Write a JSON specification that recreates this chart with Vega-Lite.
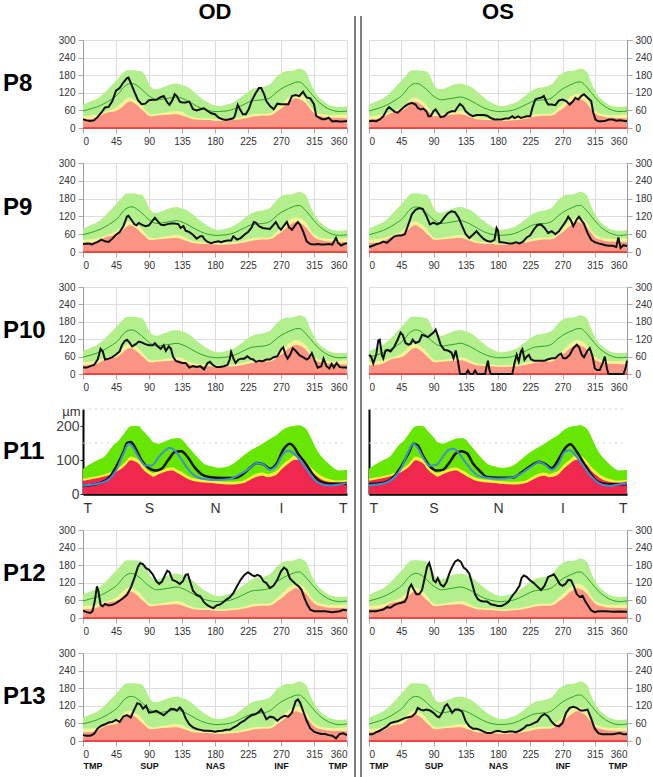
{
"$schema":"https://vega.github.io/schema/vega-lite/v6.json",
"padding":{"left":3,"top":0,"right":0,"bottom":0},
"config":{"font":"Liberation Sans","view":{"stroke":null},
"axis":{"gridColor":"#dddddd","domainColor":"#999999","tickColor":"#aaaaaa","tickSize":5,"labelFontSize":10,"labelColor":"#333333","labelPadding":3,"labelFont":"Liberation Sans"}},
"datasets":{
"norm":[{"a":0,"r":30,"yl":41,"g":79,"m":58},{"a":10,"r":31,"yl":43,"g":90,"m":65},{"a":20,"r":36,"yl":47,"g":101,"m":73},{"a":30,"r":50,"yl":55,"g":122,"m":85},{"a":40,"r":55,"yl":64,"g":148,"m":100},{"a":45,"r":58,"yl":70,"g":161,"m":109},{"a":50,"r":65,"yl":80,"g":175,"m":122},{"a":55,"r":75,"yl":92,"g":189,"m":138},{"a":60,"r":86,"yl":102,"g":197,"m":148},{"a":65,"r":90,"yl":104,"g":197,"m":152},{"a":70,"r":84,"yl":98,"g":197,"m":150},{"a":75,"r":75,"yl":90,"g":195,"m":142},{"a":80,"r":62,"yl":78,"g":193,"m":132},{"a":85,"r":52,"yl":62,"g":178,"m":120},{"a":90,"r":41,"yl":50,"g":150,"m":109},{"a":95,"r":40,"yl":47,"g":135,"m":101},{"a":100,"r":42,"yl":48,"g":132,"m":96},{"a":110,"r":44,"yl":51,"g":140,"m":99},{"a":120,"r":46,"yl":56,"g":149,"m":103},{"a":128,"r":47,"yl":58,"g":152,"m":106},{"a":135,"r":43,"yl":55,"g":147,"m":101},{"a":140,"r":38,"yl":48,"g":143,"m":96},{"a":145,"r":34,"yl":42,"g":136,"m":89},{"a":150,"r":30,"yl":37,"g":126,"m":82},{"a":155,"r":29,"yl":35,"g":115,"m":75},{"a":160,"r":28,"yl":34,"g":105,"m":69},{"a":165,"r":27,"yl":33,"g":95,"m":64},{"a":170,"r":27,"yl":33,"g":88,"m":60},{"a":175,"r":26,"yl":32,"g":81,"m":58},{"a":180,"r":25,"yl":31,"g":77,"m":56},{"a":185,"r":24,"yl":30,"g":75,"m":56},{"a":190,"r":24,"yl":30,"g":76,"m":57},{"a":195,"r":25,"yl":31,"g":79,"m":58},{"a":200,"r":26,"yl":32,"g":83,"m":60},{"a":205,"r":27,"yl":33,"g":87,"m":64},{"a":210,"r":28,"yl":34,"g":95,"m":69},{"a":215,"r":30,"yl":37,"g":104,"m":75},{"a":220,"r":32,"yl":40,"g":114,"m":81},{"a":225,"r":35,"yl":43,"g":124,"m":87},{"a":230,"r":38,"yl":46,"g":131,"m":92},{"a":235,"r":40,"yl":48,"g":136,"m":94},{"a":240,"r":41,"yl":49,"g":138,"m":95},{"a":245,"r":42,"yl":49,"g":140,"m":96},{"a":250,"r":42,"yl":49,"g":144,"m":98},{"a":255,"r":43,"yl":50,"g":149,"m":103},{"a":260,"r":48,"yl":58,"g":163,"m":113},{"a":265,"r":58,"yl":70,"g":178,"m":124},{"a":270,"r":66,"yl":80,"g":187,"m":133},{"a":275,"r":76,"yl":92,"g":193,"m":140},{"a":280,"r":87,"yl":104,"g":194,"m":146},{"a":285,"r":95,"yl":112,"g":195,"m":151},{"a":290,"r":101,"yl":117,"g":199,"m":156},{"a":295,"r":98,"yl":115,"g":203,"m":157},{"a":300,"r":92,"yl":109,"g":199,"m":149},{"a":305,"r":80,"yl":95,"g":188,"m":136},{"a":310,"r":64,"yl":75,"g":155,"m":121},{"a":315,"r":50,"yl":60,"g":130,"m":106},{"a":320,"r":43,"yl":52,"g":109,"m":92},{"a":325,"r":40,"yl":48,"g":97,"m":81},{"a":330,"r":37,"yl":46,"g":87,"m":72},{"a":340,"r":35,"yl":44,"g":75,"m":60},{"a":350,"r":34,"yl":45,"g":72,"m":56},{"a":360,"r":33,"yl":47,"g":74,"m":58}],
"n11":[{"a":0,"r":39,"yl":45,"g":74},{"a":10,"r":43,"yl":49,"g":88},{"a":20,"r":47,"yl":53,"g":100},{"a":30,"r":52,"yl":58,"g":112},{"a":40,"r":59,"yl":66,"g":140},{"a":49,"r":70,"yl":78,"g":158},{"a":55,"r":79,"yl":88,"g":175},{"a":60,"r":90,"yl":100,"g":190},{"a":65,"r":99,"yl":110,"g":199},{"a":70,"r":96,"yl":107,"g":200},{"a":76,"r":89,"yl":100,"g":199},{"a":82,"r":72,"yl":84,"g":185},{"a":90,"r":58,"yl":68,"g":167},{"a":96,"r":51,"yl":62,"g":152},{"a":103,"r":58,"yl":68,"g":148},{"a":110,"r":64,"yl":72,"g":153},{"a":116,"r":68,"yl":77,"g":158},{"a":122,"r":69,"yl":78,"g":163},{"a":130,"r":60,"yl":70,"g":165},{"a":135,"r":54,"yl":65,"g":160},{"a":140,"r":48,"yl":57,"g":148},{"a":148,"r":40,"yl":48,"g":128},{"a":156,"r":36,"yl":44,"g":108},{"a":165,"r":34,"yl":42,"g":89},{"a":174,"r":32,"yl":40,"g":82},{"a":183,"r":30,"yl":38,"g":77},{"a":192,"r":29,"yl":37,"g":78},{"a":201,"r":28,"yl":36,"g":84},{"a":210,"r":29,"yl":37,"g":97},{"a":219,"r":32,"yl":40,"g":113},{"a":228,"r":42,"yl":51,"g":127},{"a":237,"r":51,"yl":60,"g":138},{"a":245,"r":54,"yl":63,"g":148},{"a":252,"r":49,"yl":59,"g":158},{"a":259,"r":52,"yl":63,"g":167},{"a":265,"r":59,"yl":70,"g":175},{"a":272,"r":75,"yl":87,"g":188},{"a":280,"r":89,"yl":100,"g":197},{"a":288,"r":100,"yl":113,"g":200},{"a":295,"r":101,"yl":114,"g":202},{"a":300,"r":93,"yl":105,"g":198},{"a":304,"r":85,"yl":97,"g":192},{"a":311,"r":66,"yl":78,"g":165},{"a":318,"r":54,"yl":65,"g":133},{"a":326,"r":42,"yl":52,"g":108},{"a":335,"r":36,"yl":45,"g":89},{"a":345,"r":34,"yl":40,"g":72},{"a":349,"r":34,"yl":40,"g":69},{"a":360,"r":37,"yl":42,"g":71}]
},
"columns":4,
"align":"each",
"bounds":"flush",
"spacing":{"row":0,"column":8},
"concat":[
{"width":72,"height":39,"data":{"values":[{"t":""}]},"mark":{"type":"text"},"encoding":{"text":{"field":"t"}}},
{"width":264,"height":39,"data":{"values":[{"t":"OD"}]},"mark":{"type":"text","fontSize":22,"fontWeight":"bold","dy":-9,"color":"#000000","baseline":"middle"},"encoding":{"text":{"field":"t"}}},
{"width":6,"height":39,"data":{"values":[{"s":0,"p":15,"q":39},{"s":6,"p":15,"q":39}]},"mark":{"type":"rule","color":"#555555","strokeWidth":1.5},"encoding":{"x":{"field":"s","type":"quantitative","scale":{"domain":[0,6],"nice":false,"zero":false},"axis":null},"y":{"field":"p","type":"quantitative","scale":{"domain":[0,39],"nice":false,"reverse":true},"axis":null},"y2":{"field":"q"}}},
{"width":258,"height":39,"data":{"values":[{"t":"OS"}]},"mark":{"type":"text","fontSize":22,"fontWeight":"bold","dy":-9,"color":"#000000","baseline":"middle"},"encoding":{"text":{"field":"t"}}},

{"width":72,"height":88,"data":{"values":[{"t":"P8","p":0}]},"mark":{"type":"text","align":"left","baseline":"middle","fontSize":24,"fontWeight":"bold","color":"#000000"},"encoding":{"text":{"field":"t"},"x":{"field":"p","type":"quantitative","scale":{"domain":[0,1]},"axis":null}}},
{"width":264,"height":88,
"resolve":{"axis":{"x":"independent","y":"independent"}},
"encoding":{"x":{"field":"a","type":"quantitative","scale":{"domain":[0,360],"nice":false,"zero":false},"axis":null}},
"layer":[
{"data":{"name":"norm"},"mark":{"type":"area","color":"#b4ef8e","interpolate":"monotone","opacity":1},"encoding":{"x":{"field":"a","type":"quantitative","scale":{"domain":[0,360],"nice":false,"zero":false},"axis":{"orient":"bottom","values":[0,45,90,135,180,225,270,315,360],"labelFlush":true,"title":null}},"y":{"field":"g","type":"quantitative","scale":{"domain":[0,300],"nice":false},"axis":{"values":[0,60,120,180,240,300],"title":null,"orient":"left"}}}},
{"data":{"name":"norm"},"mark":{"type":"area","color":"#f6f29a","interpolate":"monotone","opacity":1},"encoding":{"y":{"field":"yl","type":"quantitative","axis":null}}},
{"data":{"name":"norm"},"mark":{"type":"area","color":"#fa9484","interpolate":"monotone","opacity":1},"encoding":{"y":{"field":"r","type":"quantitative","axis":null}}},
{"data":{"name":"norm"},"mark":{"type":"line","color":"#2ea32e","strokeWidth":1,"interpolate":"monotone"},"encoding":{"y":{"field":"m","type":"quantitative","axis":null}}},
{"data":{"values":[{"a":0,"b":360,"z":0}]},"mark":{"type":"rule","color":"#ff2a2a","strokeWidth":1.5},"encoding":{"x2":{"field":"b"},"y":{"field":"z","type":"quantitative","axis":null}}},
{"data":{"values":[{"a":0,"v":30},{"a":5,"v":26},{"a":10,"v":24},{"a":15,"v":26},{"a":20,"v":38},{"a":25,"v":52},{"a":30,"v":70},{"a":35,"v":72},{"a":40,"v":92},{"a":45,"v":127},{"a":50,"v":136},{"a":55,"v":155},{"a":60,"v":170},{"a":62,"v":172},{"a":65,"v":155},{"a":70,"v":124},{"a":75,"v":95},{"a":80,"v":81},{"a":85,"v":83},{"a":90,"v":95},{"a":95,"v":96},{"a":100,"v":96},{"a":105,"v":104},{"a":110,"v":109},{"a":115,"v":87},{"a":118,"v":79},{"a":122,"v":95},{"a":125,"v":115},{"a":128,"v":109},{"a":132,"v":90},{"a":135,"v":87},{"a":140,"v":87},{"a":145,"v":90},{"a":150,"v":64},{"a":155,"v":60},{"a":160,"v":64},{"a":165,"v":67},{"a":170,"v":58},{"a":175,"v":50},{"a":180,"v":47},{"a":185,"v":35},{"a":190,"v":30},{"a":195,"v":27},{"a":200,"v":30},{"a":205,"v":33},{"a":207,"v":41},{"a":211,"v":79},{"a":214,"v":64},{"a":218,"v":47},{"a":222,"v":47},{"a":226,"v":64},{"a":230,"v":92},{"a":235,"v":117},{"a":240,"v":136},{"a":243,"v":136},{"a":247,"v":115},{"a":250,"v":92},{"a":255,"v":75},{"a":260,"v":64},{"a":265,"v":83},{"a":270,"v":81},{"a":275,"v":81},{"a":280,"v":81},{"a":285,"v":109},{"a":290,"v":112},{"a":295,"v":109},{"a":300,"v":124},{"a":305,"v":104},{"a":310,"v":101},{"a":315,"v":81},{"a":318,"v":41},{"a":322,"v":35},{"a":326,"v":30},{"a":330,"v":30},{"a":335,"v":35},{"a":340,"v":22},{"a":345,"v":24},{"a":350,"v":22},{"a":355,"v":22},{"a":360,"v":24}]},"mark":{"type":"line","color":"#111111","strokeWidth":2},"encoding":{"y":{"field":"v","type":"quantitative","axis":null}}}
]},
{"width":6,"height":123,"data":{"values":[{"s":0},{"s":6}]},"mark":{"type":"rule","color":"#555555","strokeWidth":1.5},"encoding":{"x":{"field":"s","type":"quantitative","scale":{"domain":[0,6],"nice":false,"zero":false},"axis":null}}},
{"width":258,"height":88,
"resolve":{"axis":{"x":"independent","y":"independent"}},
"encoding":{"x":{"field":"a","type":"quantitative","scale":{"domain":[0,360],"nice":false,"zero":false},"axis":null}},
"layer":[
{"data":{"name":"norm"},"mark":{"type":"area","color":"#b4ef8e","interpolate":"monotone","opacity":1},"encoding":{"x":{"field":"a","type":"quantitative","scale":{"domain":[0,360],"nice":false,"zero":false},"axis":{"orient":"bottom","values":[0,45,90,135,180,225,270,315,360],"labelFlush":true,"title":null}},"y":{"field":"g","type":"quantitative","scale":{"domain":[0,300],"nice":false},"axis":{"values":[0,60,120,180,240,300],"title":null,"orient":"right"}}}},
{"data":{"name":"norm"},"mark":{"type":"area","color":"#f6f29a","interpolate":"monotone","opacity":1},"encoding":{"y":{"field":"yl","type":"quantitative","axis":null}}},
{"data":{"name":"norm"},"mark":{"type":"area","color":"#fa9484","interpolate":"monotone","opacity":1},"encoding":{"y":{"field":"r","type":"quantitative","axis":null}}},
{"data":{"name":"norm"},"mark":{"type":"line","color":"#2ea32e","strokeWidth":1,"interpolate":"monotone"},"encoding":{"y":{"field":"m","type":"quantitative","axis":null}}},
{"data":{"values":[{"a":0,"b":360,"z":0}]},"mark":{"type":"rule","color":"#ff2a2a","strokeWidth":1.5},"encoding":{"x2":{"field":"b"},"y":{"field":"z","type":"quantitative","axis":null}}},
{"data":{"values":[{"a":0,"v":23},{"a":5,"v":25},{"a":10,"v":23},{"a":15,"v":29},{"a":20,"v":40},{"a":25,"v":63},{"a":28,"v":71},{"a":32,"v":63},{"a":36,"v":55},{"a":40,"v":52},{"a":45,"v":63},{"a":50,"v":74},{"a":55,"v":82},{"a":60,"v":86},{"a":65,"v":80},{"a":68,"v":69},{"a":72,"v":63},{"a":76,"v":66},{"a":80,"v":57},{"a":83,"v":40},{"a":86,"v":40},{"a":90,"v":57},{"a":93,"v":63},{"a":96,"v":52},{"a":100,"v":37},{"a":105,"v":40},{"a":110,"v":52},{"a":115,"v":57},{"a":120,"v":57},{"a":123,"v":69},{"a":127,"v":82},{"a":131,"v":74},{"a":135,"v":57},{"a":140,"v":46},{"a":145,"v":40},{"a":150,"v":44},{"a":155,"v":44},{"a":160,"v":44},{"a":165,"v":42},{"a":170,"v":34},{"a":175,"v":29},{"a":180,"v":29},{"a":185,"v":29},{"a":190,"v":32},{"a":195,"v":32},{"a":200,"v":40},{"a":203,"v":34},{"a":208,"v":40},{"a":212,"v":34},{"a":216,"v":37},{"a":220,"v":40},{"a":225,"v":40},{"a":228,"v":69},{"a":232,"v":97},{"a":236,"v":101},{"a":240,"v":103},{"a":244,"v":109},{"a":247,"v":92},{"a":250,"v":80},{"a":255,"v":80},{"a":260,"v":78},{"a":265,"v":94},{"a":270,"v":97},{"a":275,"v":92},{"a":280,"v":80},{"a":285,"v":92},{"a":288,"v":103},{"a":292,"v":97},{"a":296,"v":109},{"a":300,"v":115},{"a":305,"v":103},{"a":310,"v":92},{"a":313,"v":52},{"a":316,"v":29},{"a":320,"v":23},{"a":325,"v":23},{"a":330,"v":25},{"a":335,"v":29},{"a":340,"v":29},{"a":345,"v":25},{"a":350,"v":26},{"a":355,"v":25},{"a":360,"v":23}]},"mark":{"type":"line","color":"#111111","strokeWidth":2},"encoding":{"y":{"field":"v","type":"quantitative","axis":null}}}
]},

{"width":72,"height":89,"data":{"values":[{"t":"P9","p":0}]},"mark":{"type":"text","align":"left","baseline":"middle","fontSize":24,"fontWeight":"bold","color":"#000000"},"encoding":{"text":{"field":"t"},"x":{"field":"p","type":"quantitative","scale":{"domain":[0,1]},"axis":null}}},
{"width":264,"height":89,
"resolve":{"axis":{"x":"independent","y":"independent"}},
"encoding":{"x":{"field":"a","type":"quantitative","scale":{"domain":[0,360],"nice":false,"zero":false},"axis":null}},
"layer":[
{"data":{"name":"norm"},"mark":{"type":"area","color":"#b4ef8e","interpolate":"monotone","opacity":1},"encoding":{"x":{"field":"a","type":"quantitative","scale":{"domain":[0,360],"nice":false,"zero":false},"axis":{"orient":"bottom","values":[0,45,90,135,180,225,270,315,360],"labelFlush":true,"title":null}},"y":{"field":"g","type":"quantitative","scale":{"domain":[0,300],"nice":false},"axis":{"values":[0,60,120,180,240,300],"title":null,"orient":"left"}}}},
{"data":{"name":"norm"},"mark":{"type":"area","color":"#f6f29a","interpolate":"monotone","opacity":1},"encoding":{"y":{"field":"yl","type":"quantitative","axis":null}}},
{"data":{"name":"norm"},"mark":{"type":"area","color":"#fa9484","interpolate":"monotone","opacity":1},"encoding":{"y":{"field":"r","type":"quantitative","axis":null}}},
{"data":{"name":"norm"},"mark":{"type":"line","color":"#2ea32e","strokeWidth":1,"interpolate":"monotone"},"encoding":{"y":{"field":"m","type":"quantitative","axis":null}}},
{"data":{"values":[{"a":0,"b":360,"z":0}]},"mark":{"type":"rule","color":"#ff2a2a","strokeWidth":1.5},"encoding":{"x2":{"field":"b"},"y":{"field":"z","type":"quantitative","axis":null}}},
{"data":{"values":[{"a":0,"v":27},{"a":5,"v":29},{"a":10,"v":28},{"a":12,"v":25},{"a":15,"v":29},{"a":20,"v":34},{"a":25,"v":42},{"a":30,"v":36},{"a":35,"v":34},{"a":40,"v":45},{"a":45,"v":58},{"a":50,"v":67},{"a":55,"v":87},{"a":60,"v":120},{"a":62,"v":122},{"a":65,"v":112},{"a":70,"v":94},{"a":73,"v":90},{"a":76,"v":98},{"a":80,"v":92},{"a":85,"v":87},{"a":90,"v":90},{"a":94,"v":103},{"a":98,"v":115},{"a":102,"v":103},{"a":106,"v":92},{"a":110,"v":90},{"a":115,"v":94},{"a":120,"v":96},{"a":125,"v":96},{"a":130,"v":94},{"a":133,"v":81},{"a":137,"v":87},{"a":140,"v":72},{"a":145,"v":67},{"a":150,"v":58},{"a":155,"v":45},{"a":160,"v":53},{"a":163,"v":53},{"a":166,"v":42},{"a":170,"v":34},{"a":175,"v":30},{"a":180,"v":34},{"a":185,"v":36},{"a":188,"v":33},{"a":192,"v":36},{"a":197,"v":39},{"a":202,"v":39},{"a":205,"v":53},{"a":210,"v":42},{"a":215,"v":47},{"a":220,"v":58},{"a":225,"v":67},{"a":230,"v":83},{"a":233,"v":101},{"a":236,"v":98},{"a":240,"v":87},{"a":245,"v":81},{"a":250,"v":79},{"a":255,"v":78},{"a":260,"v":92},{"a":263,"v":101},{"a":267,"v":83},{"a":270,"v":75},{"a":275,"v":92},{"a":278,"v":101},{"a":281,"v":83},{"a":285,"v":75},{"a":290,"v":92},{"a":293,"v":101},{"a":296,"v":92},{"a":300,"v":70},{"a":305,"v":36},{"a":310,"v":27},{"a":315,"v":25},{"a":320,"v":27},{"a":325,"v":25},{"a":330,"v":25},{"a":335,"v":27},{"a":340,"v":25},{"a":345,"v":47},{"a":348,"v":30},{"a":352,"v":22},{"a":356,"v":27},{"a":360,"v":30}]},"mark":{"type":"line","color":"#111111","strokeWidth":2},"encoding":{"y":{"field":"v","type":"quantitative","axis":null}}}
]},
{"width":6,"height":124,"data":{"values":[{"s":0},{"s":6}]},"mark":{"type":"rule","color":"#555555","strokeWidth":1.5},"encoding":{"x":{"field":"s","type":"quantitative","scale":{"domain":[0,6],"nice":false,"zero":false},"axis":null}}},
{"width":258,"height":89,
"resolve":{"axis":{"x":"independent","y":"independent"}},
"encoding":{"x":{"field":"a","type":"quantitative","scale":{"domain":[0,360],"nice":false,"zero":false},"axis":null}},
"layer":[
{"data":{"name":"norm"},"mark":{"type":"area","color":"#b4ef8e","interpolate":"monotone","opacity":1},"encoding":{"x":{"field":"a","type":"quantitative","scale":{"domain":[0,360],"nice":false,"zero":false},"axis":{"orient":"bottom","values":[0,45,90,135,180,225,270,315,360],"labelFlush":true,"title":null}},"y":{"field":"g","type":"quantitative","scale":{"domain":[0,300],"nice":false},"axis":{"values":[0,60,120,180,240,300],"title":null,"orient":"right"}}}},
{"data":{"name":"norm"},"mark":{"type":"area","color":"#f6f29a","interpolate":"monotone","opacity":1},"encoding":{"y":{"field":"yl","type":"quantitative","axis":null}}},
{"data":{"name":"norm"},"mark":{"type":"area","color":"#fa9484","interpolate":"monotone","opacity":1},"encoding":{"y":{"field":"r","type":"quantitative","axis":null}}},
{"data":{"name":"norm"},"mark":{"type":"line","color":"#2ea32e","strokeWidth":1,"interpolate":"monotone"},"encoding":{"y":{"field":"m","type":"quantitative","axis":null}}},
{"data":{"values":[{"a":0,"b":360,"z":0}]},"mark":{"type":"rule","color":"#ff2a2a","strokeWidth":1.5},"encoding":{"x2":{"field":"b"},"y":{"field":"z","type":"quantitative","axis":null}}},
{"data":{"values":[{"a":0,"v":17},{"a":5,"v":21},{"a":10,"v":26},{"a":15,"v":29},{"a":20,"v":35},{"a":25,"v":31},{"a":30,"v":41},{"a":35,"v":52},{"a":40,"v":56},{"a":45,"v":56},{"a":50,"v":60},{"a":55,"v":93},{"a":60,"v":128},{"a":65,"v":142},{"a":70,"v":148},{"a":75,"v":145},{"a":80,"v":122},{"a":85,"v":93},{"a":90,"v":99},{"a":95,"v":93},{"a":100,"v":99},{"a":105,"v":116},{"a":110,"v":130},{"a":115,"v":137},{"a":120,"v":134},{"a":125,"v":116},{"a":130,"v":87},{"a":135,"v":60},{"a":140,"v":47},{"a":145,"v":58},{"a":150,"v":70},{"a":155,"v":56},{"a":160,"v":44},{"a":165,"v":37},{"a":170,"v":35},{"a":175,"v":41},{"a":178,"v":81},{"a":180,"v":72},{"a":182,"v":33},{"a":185,"v":33},{"a":190,"v":31},{"a":195,"v":29},{"a":200,"v":29},{"a":205,"v":33},{"a":210,"v":29},{"a":215,"v":35},{"a":220,"v":49},{"a":225,"v":56},{"a":230,"v":76},{"a":235,"v":91},{"a":240,"v":93},{"a":245,"v":81},{"a":250,"v":64},{"a":255,"v":70},{"a":260,"v":60},{"a":265,"v":70},{"a":270,"v":87},{"a":275,"v":105},{"a":278,"v":119},{"a":282,"v":105},{"a":285,"v":87},{"a":290,"v":110},{"a":293,"v":119},{"a":297,"v":105},{"a":300,"v":95},{"a":305,"v":64},{"a":310,"v":41},{"a":315,"v":33},{"a":320,"v":29},{"a":325,"v":26},{"a":330,"v":23},{"a":335,"v":21},{"a":340,"v":21},{"a":345,"v":17},{"a":348,"v":49},{"a":351,"v":14},{"a":355,"v":23},{"a":360,"v":20}]},"mark":{"type":"line","color":"#111111","strokeWidth":2},"encoding":{"y":{"field":"v","type":"quantitative","axis":null}}}
]},

{"width":72,"height":87,"data":{"values":[{"t":"P10","p":0}]},"mark":{"type":"text","align":"left","baseline":"middle","fontSize":24,"fontWeight":"bold","color":"#000000"},"encoding":{"text":{"field":"t"},"x":{"field":"p","type":"quantitative","scale":{"domain":[0,1]},"axis":null}}},
{"width":264,"height":87,
"resolve":{"axis":{"x":"independent","y":"independent"}},
"encoding":{"x":{"field":"a","type":"quantitative","scale":{"domain":[0,360],"nice":false,"zero":false},"axis":null}},
"layer":[
{"data":{"name":"norm"},"mark":{"type":"area","color":"#b4ef8e","interpolate":"monotone","opacity":1},"encoding":{"x":{"field":"a","type":"quantitative","scale":{"domain":[0,360],"nice":false,"zero":false},"axis":{"orient":"bottom","values":[0,45,90,135,180,225,270,315,360],"labelFlush":true,"title":null}},"y":{"field":"g","type":"quantitative","scale":{"domain":[0,300],"nice":false},"axis":{"values":[0,60,120,180,240,300],"title":null,"orient":"left"}}}},
{"data":{"name":"norm"},"mark":{"type":"area","color":"#f6f29a","interpolate":"monotone","opacity":1},"encoding":{"y":{"field":"yl","type":"quantitative","axis":null}}},
{"data":{"name":"norm"},"mark":{"type":"area","color":"#fa9484","interpolate":"monotone","opacity":1},"encoding":{"y":{"field":"r","type":"quantitative","axis":null}}},
{"data":{"name":"norm"},"mark":{"type":"line","color":"#2ea32e","strokeWidth":1,"interpolate":"monotone"},"encoding":{"y":{"field":"m","type":"quantitative","axis":null}}},
{"data":{"values":[{"a":0,"b":360,"z":0}]},"mark":{"type":"rule","color":"#ff2a2a","strokeWidth":1.5},"encoding":{"x2":{"field":"b"},"y":{"field":"z","type":"quantitative","axis":null}}},
{"data":{"values":[{"a":0,"v":22},{"a":5,"v":22},{"a":10,"v":27},{"a":15,"v":31},{"a":20,"v":50},{"a":24,"v":87},{"a":27,"v":78},{"a":30,"v":50},{"a":35,"v":53},{"a":40,"v":58},{"a":45,"v":67},{"a":50,"v":78},{"a":53,"v":99},{"a":57,"v":114},{"a":60,"v":118},{"a":63,"v":110},{"a":67,"v":95},{"a":72,"v":103},{"a":76,"v":112},{"a":80,"v":109},{"a":85,"v":103},{"a":90,"v":99},{"a":95,"v":99},{"a":98,"v":106},{"a":102,"v":95},{"a":106,"v":87},{"a":110,"v":99},{"a":113,"v":80},{"a":117,"v":95},{"a":120,"v":87},{"a":123,"v":58},{"a":127,"v":44},{"a":130,"v":42},{"a":135,"v":38},{"a":140,"v":38},{"a":145,"v":22},{"a":150,"v":27},{"a":155,"v":24},{"a":160,"v":27},{"a":165,"v":16},{"a":170,"v":38},{"a":173,"v":42},{"a":177,"v":31},{"a":182,"v":24},{"a":187,"v":24},{"a":192,"v":27},{"a":197,"v":31},{"a":200,"v":50},{"a":202,"v":76},{"a":205,"v":55},{"a":208,"v":38},{"a":212,"v":50},{"a":216,"v":53},{"a":220,"v":53},{"a":224,"v":61},{"a":228,"v":53},{"a":232,"v":50},{"a":236,"v":42},{"a":240,"v":46},{"a":245,"v":44},{"a":250,"v":50},{"a":255,"v":50},{"a":260,"v":58},{"a":265,"v":61},{"a":270,"v":84},{"a":273,"v":92},{"a":276,"v":67},{"a":279,"v":53},{"a":283,"v":69},{"a":286,"v":89},{"a":290,"v":80},{"a":295,"v":65},{"a":300,"v":58},{"a":305,"v":50},{"a":308,"v":55},{"a":312,"v":72},{"a":316,"v":46},{"a":320,"v":22},{"a":325,"v":27},{"a":328,"v":53},{"a":332,"v":27},{"a":336,"v":19},{"a":339,"v":35},{"a":342,"v":22},{"a":346,"v":38},{"a":350,"v":24},{"a":355,"v":22},{"a":360,"v":22}]},"mark":{"type":"line","color":"#111111","strokeWidth":2},"encoding":{"y":{"field":"v","type":"quantitative","axis":null}}}
]},
{"width":6,"height":122,"data":{"values":[{"s":0},{"s":6}]},"mark":{"type":"rule","color":"#555555","strokeWidth":1.5},"encoding":{"x":{"field":"s","type":"quantitative","scale":{"domain":[0,6],"nice":false,"zero":false},"axis":null}}},
{"width":258,"height":87,
"resolve":{"axis":{"x":"independent","y":"independent"}},
"encoding":{"x":{"field":"a","type":"quantitative","scale":{"domain":[0,360],"nice":false,"zero":false},"axis":null}},
"layer":[
{"data":{"name":"norm"},"mark":{"type":"area","color":"#b4ef8e","interpolate":"monotone","opacity":1},"encoding":{"x":{"field":"a","type":"quantitative","scale":{"domain":[0,360],"nice":false,"zero":false},"axis":{"orient":"bottom","values":[0,45,90,135,180,225,270,315,360],"labelFlush":true,"title":null}},"y":{"field":"g","type":"quantitative","scale":{"domain":[0,300],"nice":false},"axis":{"values":[0,60,120,180,240,300],"title":null,"orient":"right"}}}},
{"data":{"name":"norm"},"mark":{"type":"area","color":"#f6f29a","interpolate":"monotone","opacity":1},"encoding":{"y":{"field":"yl","type":"quantitative","axis":null}}},
{"data":{"name":"norm"},"mark":{"type":"area","color":"#fa9484","interpolate":"monotone","opacity":1},"encoding":{"y":{"field":"r","type":"quantitative","axis":null}}},
{"data":{"name":"norm"},"mark":{"type":"line","color":"#2ea32e","strokeWidth":1,"interpolate":"monotone"},"encoding":{"y":{"field":"m","type":"quantitative","axis":null}}},
{"data":{"values":[{"a":0,"b":360,"z":0}]},"mark":{"type":"rule","color":"#ff2a2a","strokeWidth":1.5},"encoding":{"x2":{"field":"b"},"y":{"field":"z","type":"quantitative","axis":null}}},
{"data":{"values":[{"a":0,"v":66},{"a":3,"v":60},{"a":6,"v":37},{"a":10,"v":66},{"a":13,"v":116},{"a":15,"v":118},{"a":18,"v":66},{"a":20,"v":54},{"a":23,"v":81},{"a":26,"v":83},{"a":30,"v":78},{"a":35,"v":93},{"a":40,"v":118},{"a":44,"v":143},{"a":47,"v":135},{"a":51,"v":107},{"a":55,"v":101},{"a":58,"v":104},{"a":61,"v":118},{"a":65,"v":107},{"a":70,"v":112},{"a":74,"v":135},{"a":78,"v":132},{"a":82,"v":127},{"a":86,"v":135},{"a":90,"v":143},{"a":93,"v":153},{"a":97,"v":124},{"a":100,"v":101},{"a":105,"v":83},{"a":110,"v":81},{"a":115,"v":74},{"a":118,"v":54},{"a":121,"v":81},{"a":124,"v":46},{"a":127,"v":0},{"a":135,"v":0},{"a":138,"v":12},{"a":141,"v":0},{"a":145,"v":0},{"a":148,"v":12},{"a":151,"v":0},{"a":162,"v":0},{"a":164,"v":25},{"a":166,"v":46},{"a":168,"v":14},{"a":170,"v":0},{"a":200,"v":0},{"a":203,"v":37},{"a":206,"v":66},{"a":209,"v":43},{"a":212,"v":78},{"a":214,"v":86},{"a":217,"v":49},{"a":220,"v":60},{"a":223,"v":66},{"a":226,"v":51},{"a":230,"v":46},{"a":235,"v":46},{"a":240,"v":46},{"a":245,"v":46},{"a":250,"v":51},{"a":255,"v":54},{"a":260,"v":54},{"a":265,"v":66},{"a":268,"v":70},{"a":271,"v":54},{"a":275,"v":54},{"a":280,"v":66},{"a":285,"v":89},{"a":290,"v":101},{"a":293,"v":93},{"a":297,"v":66},{"a":300,"v":58},{"a":305,"v":81},{"a":308,"v":89},{"a":312,"v":60},{"a":315,"v":20},{"a":318,"v":14},{"a":322,"v":14},{"a":326,"v":37},{"a":329,"v":60},{"a":332,"v":20},{"a":334,"v":0},{"a":355,"v":0},{"a":358,"v":20},{"a":360,"v":46}]},"mark":{"type":"line","color":"#111111","strokeWidth":2},"encoding":{"y":{"field":"v","type":"quantitative","axis":null}}}
]},

{"width":72,"height":85,"data":{"values":[{"t":"P11","p":0}]},"mark":{"type":"text","align":"left","baseline":"middle","fontSize":24,"fontWeight":"bold","color":"#000000"},"encoding":{"text":{"field":"t"},"x":{"field":"p","type":"quantitative","scale":{"domain":[0,1]},"axis":null}}},
{"width":264,"height":85,
"resolve":{"axis":{"x":"independent","y":"independent"}},
"encoding":{"x":{"field":"a","type":"quantitative","scale":{"domain":[0,360],"nice":false,"zero":false},"axis":null}},
"layer":[
{"data":{"values":[{"a":0,"b":360,"z":150},{"a":0,"b":360,"z":250}]},"mark":{"type":"rule","color":"#d0d0d0","strokeDash":[2,4],"strokeWidth":1},"encoding":{"x2":{"field":"b"},"y":{"field":"z","type":"quantitative","scale":{"domain":[0,250],"nice":false},"axis":null}}},
{"data":{"name":"n11"},"mark":{"type":"area","color":"#66e600","interpolate":"monotone","opacity":1},"encoding":{"x":{"field":"a","type":"quantitative","scale":{"domain":[0,360],"nice":false,"zero":false},"axis":{"orient":"bottom","values":[0,90,180,270,360],"labelExpr":"['T','S','N','I','T'][datum.value/90]","labelFlush":true,"grid":false,"ticks":false,"domainColor":"#000000","domainWidth":2.5,"labelFontSize":14,"labelPadding":7,"labelColor":"#333333","title":null}},"y":{"field":"g","type":"quantitative","scale":{"domain":[0,250],"nice":false},"axis":{"orient":"left","values":[0,100,200],"grid":false,"domainColor":"#000000","domainWidth":2,"tickColor":"#333333","tickSize":3,"labelPadding":1,"labelFontSize":14,"labelColor":"#444444","title":"µm","titleAngle":0,"titleAlign":"right","titleBaseline":"middle","titleX":-3,"titleY":2,"titleFontSize":13,"titleFontWeight":"normal","titleColor":"#333333"}}}},
{"data":{"name":"n11"},"mark":{"type":"area","color":"#f4f03c","interpolate":"monotone","opacity":1},"encoding":{"y":{"field":"yl","type":"quantitative","axis":null}}},
{"data":{"name":"n11"},"mark":{"type":"area","color":"#f0284e","interpolate":"monotone","opacity":1},"encoding":{"y":{"field":"r","type":"quantitative","axis":null}}},
{"data":{"values":[{"a":0,"v":25},{"a":10,"v":26},{"a":20,"v":30},{"a":36,"v":49},{"a":45,"v":79},{"a":56,"v":128},{"a":60,"v":150},{"a":65,"v":153},{"a":72,"v":133},{"a":80,"v":99},{"a":89,"v":77},{"a":98,"v":69},{"a":107,"v":74},{"a":116,"v":99},{"a":125,"v":123},{"a":134,"v":126},{"a":143,"v":108},{"a":152,"v":79},{"a":161,"v":59},{"a":174,"v":49},{"a":190,"v":47},{"a":206,"v":47},{"a":215,"v":54},{"a":228,"v":77},{"a":237,"v":91},{"a":246,"v":87},{"a":255,"v":74},{"a":264,"v":89},{"a":273,"v":130},{"a":282,"v":148},{"a":286,"v":143},{"a":295,"v":113},{"a":304,"v":89},{"a":313,"v":59},{"a":322,"v":39},{"a":331,"v":32},{"a":340,"v":30},{"a":360,"v":30}]},"mark":{"type":"line","color":"#111111","strokeWidth":2.5,"interpolate":"monotone"},"encoding":{"y":{"field":"v","type":"quantitative","axis":null}}},
{"data":{"values":[{"a":0,"v":25},{"a":20,"v":30},{"a":36,"v":44},{"a":45,"v":69},{"a":56,"v":123},{"a":62,"v":148},{"a":68,"v":138},{"a":76,"v":108},{"a":85,"v":84},{"a":94,"v":84},{"a":103,"v":108},{"a":112,"v":128},{"a":118,"v":136},{"a":125,"v":128},{"a":134,"v":103},{"a":143,"v":74},{"a":152,"v":54},{"a":165,"v":44},{"a":180,"v":41},{"a":200,"v":44},{"a":215,"v":59},{"a":228,"v":77},{"a":237,"v":91},{"a":246,"v":87},{"a":255,"v":71},{"a":264,"v":84},{"a":273,"v":118},{"a":280,"v":128},{"a":288,"v":118},{"a":298,"v":94},{"a":308,"v":64},{"a":320,"v":34},{"a":335,"v":25},{"a":350,"v":28},{"a":360,"v":32}]},"mark":{"type":"line","color":"#3d8fd1","strokeWidth":2,"interpolate":"monotone"},"encoding":{"y":{"field":"v","type":"quantitative","axis":null}}}
]},
{"width":6,"height":121,"data":{"values":[{"s":0},{"s":6}]},"mark":{"type":"rule","color":"#555555","strokeWidth":1.5},"encoding":{"x":{"field":"s","type":"quantitative","scale":{"domain":[0,6],"nice":false,"zero":false},"axis":null}}},
{"width":258,"height":85,
"resolve":{"axis":{"x":"independent","y":"independent"}},
"encoding":{"x":{"field":"a","type":"quantitative","scale":{"domain":[0,360],"nice":false,"zero":false},"axis":null}},
"layer":[
{"data":{"values":[{"a":0,"b":360,"z":150},{"a":0,"b":360,"z":250}]},"mark":{"type":"rule","color":"#d0d0d0","strokeDash":[2,4],"strokeWidth":1},"encoding":{"x2":{"field":"b"},"y":{"field":"z","type":"quantitative","scale":{"domain":[0,250],"nice":false},"axis":null}}},
{"data":{"name":"n11"},"mark":{"type":"area","color":"#66e600","interpolate":"monotone","opacity":1},"encoding":{"x":{"field":"a","type":"quantitative","scale":{"domain":[0,360],"nice":false,"zero":false},"axis":{"orient":"bottom","values":[0,90,180,270,360],"labelExpr":"['T','S','N','I','T'][datum.value/90]","labelFlush":true,"grid":false,"ticks":false,"domainColor":"#000000","domainWidth":2.5,"labelFontSize":14,"labelPadding":7,"labelColor":"#333333","title":null}},"y":{"field":"g","type":"quantitative","scale":{"domain":[0,250],"nice":false},"axis":{"orient":"left","values":[0,50,100,150,200,250],"grid":false,"labels":false,"ticks":false,"domainColor":"#000000","domainWidth":2,"title":null}}}},
{"data":{"name":"n11"},"mark":{"type":"area","color":"#f4f03c","interpolate":"monotone","opacity":1},"encoding":{"y":{"field":"yl","type":"quantitative","axis":null}}},
{"data":{"name":"n11"},"mark":{"type":"area","color":"#f0284e","interpolate":"monotone","opacity":1},"encoding":{"y":{"field":"r","type":"quantitative","axis":null}}},
{"data":{"values":[{"a":0,"v":29},{"a":20,"v":33},{"a":36,"v":54},{"a":45,"v":81},{"a":56,"v":124},{"a":62,"v":148},{"a":68,"v":143},{"a":76,"v":110},{"a":85,"v":81},{"a":94,"v":69},{"a":103,"v":71},{"a":112,"v":92},{"a":121,"v":119},{"a":129,"v":126},{"a":137,"v":119},{"a":145,"v":90},{"a":155,"v":67},{"a":165,"v":50},{"a":180,"v":48},{"a":200,"v":48},{"a":215,"v":67},{"a":228,"v":86},{"a":237,"v":95},{"a":246,"v":88},{"a":255,"v":76},{"a":264,"v":100},{"a":273,"v":133},{"a":281,"v":146},{"a":290,"v":124},{"a":300,"v":90},{"a":310,"v":57},{"a":320,"v":35},{"a":335,"v":29},{"a":360,"v":29}]},"mark":{"type":"line","color":"#111111","strokeWidth":2.5,"interpolate":"monotone"},"encoding":{"y":{"field":"v","type":"quantitative","axis":null}}},
{"data":{"values":[{"a":0,"v":26},{"a":20,"v":31},{"a":36,"v":50},{"a":45,"v":76},{"a":56,"v":129},{"a":62,"v":148},{"a":68,"v":136},{"a":76,"v":105},{"a":85,"v":83},{"a":94,"v":86},{"a":103,"v":110},{"a":112,"v":131},{"a":118,"v":133},{"a":125,"v":121},{"a":134,"v":95},{"a":143,"v":71},{"a":152,"v":54},{"a":165,"v":48},{"a":180,"v":45},{"a":200,"v":48},{"a":215,"v":64},{"a":228,"v":83},{"a":237,"v":95},{"a":246,"v":86},{"a":255,"v":71},{"a":264,"v":88},{"a":273,"v":124},{"a":280,"v":129},{"a":288,"v":114},{"a":298,"v":86},{"a":308,"v":57},{"a":320,"v":33},{"a":335,"v":24},{"a":350,"v":29},{"a":360,"v":31}]},"mark":{"type":"line","color":"#3d8fd1","strokeWidth":2,"interpolate":"monotone"},"encoding":{"y":{"field":"v","type":"quantitative","axis":null}}}
]},

{"width":72,"height":88,"data":{"values":[{"t":"P12","p":0}]},"mark":{"type":"text","align":"left","baseline":"middle","fontSize":24,"fontWeight":"bold","color":"#000000"},"encoding":{"text":{"field":"t"},"x":{"field":"p","type":"quantitative","scale":{"domain":[0,1]},"axis":null}}},
{"width":264,"height":88,
"resolve":{"axis":{"x":"independent","y":"independent"}},
"encoding":{"x":{"field":"a","type":"quantitative","scale":{"domain":[0,360],"nice":false,"zero":false},"axis":null}},
"layer":[
{"data":{"name":"norm"},"mark":{"type":"area","color":"#b4ef8e","interpolate":"monotone","opacity":1},"encoding":{"x":{"field":"a","type":"quantitative","scale":{"domain":[0,360],"nice":false,"zero":false},"axis":{"orient":"bottom","values":[0,45,90,135,180,225,270,315,360],"labelFlush":true,"title":null}},"y":{"field":"g","type":"quantitative","scale":{"domain":[0,300],"nice":false},"axis":{"values":[0,60,120,180,240,300],"title":null,"orient":"left"}}}},
{"data":{"name":"norm"},"mark":{"type":"area","color":"#f6f29a","interpolate":"monotone","opacity":1},"encoding":{"y":{"field":"yl","type":"quantitative","axis":null}}},
{"data":{"name":"norm"},"mark":{"type":"area","color":"#fa9484","interpolate":"monotone","opacity":1},"encoding":{"y":{"field":"r","type":"quantitative","axis":null}}},
{"data":{"name":"norm"},"mark":{"type":"line","color":"#2ea32e","strokeWidth":1,"interpolate":"monotone"},"encoding":{"y":{"field":"m","type":"quantitative","axis":null}}},
{"data":{"values":[{"a":0,"b":360,"z":0}]},"mark":{"type":"rule","color":"#ff2a2a","strokeWidth":1.5},"encoding":{"x2":{"field":"b"},"y":{"field":"z","type":"quantitative","axis":null}}},
{"data":{"values":[{"a":0,"v":25},{"a":5,"v":20},{"a":10,"v":17},{"a":13,"v":23},{"a":16,"v":57},{"a":19,"v":108},{"a":21,"v":91},{"a":24,"v":45},{"a":27,"v":40},{"a":30,"v":48},{"a":35,"v":43},{"a":40,"v":45},{"a":45,"v":51},{"a":50,"v":59},{"a":55,"v":68},{"a":60,"v":79},{"a":65,"v":102},{"a":70,"v":136},{"a":75,"v":175},{"a":78,"v":187},{"a":82,"v":183},{"a":86,"v":170},{"a":90,"v":164},{"a":95,"v":149},{"a":100,"v":125},{"a":104,"v":116},{"a":108,"v":125},{"a":112,"v":147},{"a":115,"v":161},{"a":118,"v":156},{"a":122,"v":130},{"a":127,"v":125},{"a":132,"v":116},{"a":136,"v":125},{"a":140,"v":147},{"a":143,"v":149},{"a":146,"v":125},{"a":150,"v":93},{"a":155,"v":79},{"a":160,"v":74},{"a":165,"v":54},{"a":170,"v":43},{"a":175,"v":36},{"a":178,"v":34},{"a":182,"v":43},{"a":186,"v":45},{"a":190,"v":51},{"a":195,"v":62},{"a":200,"v":70},{"a":205,"v":85},{"a":210,"v":108},{"a":215,"v":130},{"a":220,"v":147},{"a":225,"v":156},{"a":230,"v":147},{"a":234,"v":142},{"a":238,"v":147},{"a":242,"v":142},{"a":246,"v":125},{"a":250,"v":119},{"a":255,"v":102},{"a":260,"v":111},{"a":265,"v":130},{"a":270,"v":159},{"a":274,"v":172},{"a":278,"v":164},{"a":282,"v":136},{"a":286,"v":125},{"a":290,"v":116},{"a":294,"v":108},{"a":298,"v":96},{"a":302,"v":68},{"a":306,"v":45},{"a":310,"v":28},{"a":315,"v":23},{"a":320,"v":23},{"a":330,"v":23},{"a":340,"v":20},{"a":350,"v":23},{"a":355,"v":28},{"a":360,"v":26}]},"mark":{"type":"line","color":"#111111","strokeWidth":2},"encoding":{"y":{"field":"v","type":"quantitative","axis":null}}}
]},
{"width":6,"height":123,"data":{"values":[{"s":0},{"s":6}]},"mark":{"type":"rule","color":"#555555","strokeWidth":1.5},"encoding":{"x":{"field":"s","type":"quantitative","scale":{"domain":[0,6],"nice":false,"zero":false},"axis":null}}},
{"width":258,"height":88,
"resolve":{"axis":{"x":"independent","y":"independent"}},
"encoding":{"x":{"field":"a","type":"quantitative","scale":{"domain":[0,360],"nice":false,"zero":false},"axis":null}},
"layer":[
{"data":{"name":"norm"},"mark":{"type":"area","color":"#b4ef8e","interpolate":"monotone","opacity":1},"encoding":{"x":{"field":"a","type":"quantitative","scale":{"domain":[0,360],"nice":false,"zero":false},"axis":{"orient":"bottom","values":[0,45,90,135,180,225,270,315,360],"labelFlush":true,"title":null}},"y":{"field":"g","type":"quantitative","scale":{"domain":[0,300],"nice":false},"axis":{"values":[0,60,120,180,240,300],"title":null,"orient":"right"}}}},
{"data":{"name":"norm"},"mark":{"type":"area","color":"#f6f29a","interpolate":"monotone","opacity":1},"encoding":{"y":{"field":"yl","type":"quantitative","axis":null}}},
{"data":{"name":"norm"},"mark":{"type":"area","color":"#fa9484","interpolate":"monotone","opacity":1},"encoding":{"y":{"field":"r","type":"quantitative","axis":null}}},
{"data":{"name":"norm"},"mark":{"type":"line","color":"#2ea32e","strokeWidth":1,"interpolate":"monotone"},"encoding":{"y":{"field":"m","type":"quantitative","axis":null}}},
{"data":{"values":[{"a":0,"b":360,"z":0}]},"mark":{"type":"rule","color":"#ff2a2a","strokeWidth":1.5},"encoding":{"x2":{"field":"b"},"y":{"field":"z","type":"quantitative","axis":null}}},
{"data":{"values":[{"a":0,"v":23},{"a":10,"v":23},{"a":15,"v":26},{"a":20,"v":29},{"a":25,"v":37},{"a":30,"v":35},{"a":35,"v":44},{"a":40,"v":49},{"a":45,"v":52},{"a":50,"v":56},{"a":53,"v":70},{"a":56,"v":102},{"a":59,"v":114},{"a":62,"v":99},{"a":66,"v":81},{"a":70,"v":81},{"a":74,"v":95},{"a":78,"v":140},{"a":81,"v":174},{"a":84,"v":188},{"a":87,"v":163},{"a":90,"v":128},{"a":93,"v":122},{"a":96,"v":136},{"a":100,"v":114},{"a":104,"v":107},{"a":108,"v":122},{"a":112,"v":151},{"a":116,"v":174},{"a":120,"v":192},{"a":124,"v":198},{"a":128,"v":192},{"a":132,"v":172},{"a":136,"v":165},{"a":140,"v":151},{"a":144,"v":116},{"a":148,"v":81},{"a":152,"v":64},{"a":156,"v":58},{"a":160,"v":56},{"a":165,"v":56},{"a":170,"v":47},{"a":175,"v":44},{"a":180,"v":41},{"a":185,"v":41},{"a":190,"v":47},{"a":195,"v":56},{"a":200,"v":76},{"a":205,"v":91},{"a":210,"v":110},{"a":213,"v":137},{"a":216,"v":145},{"a":220,"v":140},{"a":225,"v":128},{"a":230,"v":119},{"a":235,"v":107},{"a":240,"v":95},{"a":245,"v":110},{"a":250,"v":140},{"a":255,"v":145},{"a":258,"v":149},{"a":262,"v":134},{"a":266,"v":116},{"a":270,"v":110},{"a":274,"v":116},{"a":278,"v":130},{"a":282,"v":128},{"a":286,"v":107},{"a":290,"v":81},{"a":294,"v":72},{"a":298,"v":76},{"a":302,"v":56},{"a":306,"v":41},{"a":310,"v":26},{"a":315,"v":20},{"a":320,"v":23},{"a":330,"v":23},{"a":340,"v":21},{"a":350,"v":22},{"a":360,"v":21}]},"mark":{"type":"line","color":"#111111","strokeWidth":2},"encoding":{"y":{"field":"v","type":"quantitative","axis":null}}}
]},

{"width":72,"height":88,"data":{"values":[{"t":"P13","p":0}]},"mark":{"type":"text","align":"left","baseline":"middle","fontSize":24,"fontWeight":"bold","color":"#000000"},"encoding":{"text":{"field":"t"},"x":{"field":"p","type":"quantitative","scale":{"domain":[0,1]},"axis":null}}},
{"width":264,"height":88,
"resolve":{"axis":{"x":"independent","y":"independent"}},
"encoding":{"x":{"field":"a","type":"quantitative","scale":{"domain":[0,360],"nice":false,"zero":false},"axis":null}},
"layer":[
{"data":{"name":"norm"},"mark":{"type":"area","color":"#b4ef8e","interpolate":"monotone","opacity":1},"encoding":{"x":{"field":"a","type":"quantitative","scale":{"domain":[0,360],"nice":false,"zero":false},"axis":{"orient":"bottom","values":[0,45,90,135,180,225,270,315,360],"labelFlush":true,"title":null}},"y":{"field":"g","type":"quantitative","scale":{"domain":[0,300],"nice":false},"axis":{"values":[0,60,120,180,240,300],"title":null,"orient":"left"}}}},
{"data":{"name":"norm"},"mark":{"type":"area","color":"#f6f29a","interpolate":"monotone","opacity":1},"encoding":{"y":{"field":"yl","type":"quantitative","axis":null}}},
{"data":{"name":"norm"},"mark":{"type":"area","color":"#fa9484","interpolate":"monotone","opacity":1},"encoding":{"y":{"field":"r","type":"quantitative","axis":null}}},
{"data":{"name":"norm"},"mark":{"type":"line","color":"#2ea32e","strokeWidth":1,"interpolate":"monotone"},"encoding":{"y":{"field":"m","type":"quantitative","axis":null}}},
{"data":{"values":[{"a":0,"b":360,"z":0}]},"mark":{"type":"rule","color":"#ff2a2a","strokeWidth":1.5},"encoding":{"x":{"field":"a","type":"quantitative","scale":{"domain":[0,360],"nice":false,"zero":false},"axis":{"orient":"bottom","values":[0,90,180,270,360],"labelExpr":"['TMP','SUP','NAS','INF','TMP'][datum.value/90]","labelFlush":true,"grid":false,"domain":false,"ticks":false,"labelPadding":20,"labelFontSize":9,"labelFontWeight":"bold","labelColor":"#111111","title":null}},"x2":{"field":"b"},"y":{"field":"z","type":"quantitative","axis":null}}},
{"data":{"values":[{"a":0,"v":20},{"a":5,"v":18},{"a":10,"v":18},{"a":15,"v":24},{"a":20,"v":43},{"a":25,"v":52},{"a":30,"v":57},{"a":35,"v":63},{"a":40,"v":65},{"a":45,"v":72},{"a":50,"v":65},{"a":55,"v":83},{"a":60,"v":88},{"a":65,"v":80},{"a":70,"v":108},{"a":74,"v":129},{"a":78,"v":125},{"a":82,"v":110},{"a":86,"v":120},{"a":90,"v":97},{"a":95,"v":99},{"a":100,"v":103},{"a":105,"v":95},{"a":110,"v":88},{"a":115,"v":99},{"a":120,"v":110},{"a":125,"v":108},{"a":128,"v":103},{"a":132,"v":114},{"a":136,"v":103},{"a":140,"v":77},{"a":145,"v":57},{"a":150,"v":46},{"a":155,"v":41},{"a":160,"v":38},{"a":165,"v":35},{"a":170,"v":35},{"a":175,"v":34},{"a":180,"v":32},{"a":185,"v":34},{"a":190,"v":35},{"a":195,"v":38},{"a":200,"v":38},{"a":205,"v":46},{"a":210,"v":52},{"a":215,"v":63},{"a":220,"v":69},{"a":225,"v":80},{"a":230,"v":88},{"a":235,"v":91},{"a":240,"v":99},{"a":243,"v":108},{"a":246,"v":95},{"a":250,"v":74},{"a":255,"v":83},{"a":260,"v":80},{"a":265,"v":69},{"a":270,"v":80},{"a":275,"v":86},{"a":280,"v":83},{"a":285,"v":97},{"a":290,"v":136},{"a":293,"v":142},{"a":296,"v":131},{"a":300,"v":103},{"a":305,"v":69},{"a":310,"v":43},{"a":315,"v":32},{"a":320,"v":27},{"a":325,"v":24},{"a":330,"v":24},{"a":335,"v":20},{"a":340,"v":18},{"a":345,"v":9},{"a":350,"v":24},{"a":355,"v":26},{"a":360,"v":20}]},"mark":{"type":"line","color":"#111111","strokeWidth":2},"encoding":{"y":{"field":"v","type":"quantitative","axis":null}}}
]},
{"width":6,"height":125,"data":{"values":[{"s":0},{"s":6}]},"mark":{"type":"rule","color":"#555555","strokeWidth":1.5},"encoding":{"x":{"field":"s","type":"quantitative","scale":{"domain":[0,6],"nice":false,"zero":false},"axis":null}}},
{"width":258,"height":88,
"resolve":{"axis":{"x":"independent","y":"independent"}},
"encoding":{"x":{"field":"a","type":"quantitative","scale":{"domain":[0,360],"nice":false,"zero":false},"axis":null}},
"layer":[
{"data":{"name":"norm"},"mark":{"type":"area","color":"#b4ef8e","interpolate":"monotone","opacity":1},"encoding":{"x":{"field":"a","type":"quantitative","scale":{"domain":[0,360],"nice":false,"zero":false},"axis":{"orient":"bottom","values":[0,45,90,135,180,225,270,315,360],"labelFlush":true,"title":null}},"y":{"field":"g","type":"quantitative","scale":{"domain":[0,300],"nice":false},"axis":{"values":[0,60,120,180,240,300],"title":null,"orient":"right"}}}},
{"data":{"name":"norm"},"mark":{"type":"area","color":"#f6f29a","interpolate":"monotone","opacity":1},"encoding":{"y":{"field":"yl","type":"quantitative","axis":null}}},
{"data":{"name":"norm"},"mark":{"type":"area","color":"#fa9484","interpolate":"monotone","opacity":1},"encoding":{"y":{"field":"r","type":"quantitative","axis":null}}},
{"data":{"name":"norm"},"mark":{"type":"line","color":"#2ea32e","strokeWidth":1,"interpolate":"monotone"},"encoding":{"y":{"field":"m","type":"quantitative","axis":null}}},
{"data":{"values":[{"a":0,"b":360,"z":0}]},"mark":{"type":"rule","color":"#ff2a2a","strokeWidth":1.5},"encoding":{"x":{"field":"a","type":"quantitative","scale":{"domain":[0,360],"nice":false,"zero":false},"axis":{"orient":"bottom","values":[0,90,180,270,360],"labelExpr":"['TMP','SUP','NAS','INF','TMP'][datum.value/90]","labelFlush":true,"grid":false,"domain":false,"ticks":false,"labelPadding":20,"labelFontSize":9,"labelFontWeight":"bold","labelColor":"#111111","title":null}},"x2":{"field":"b"},"y":{"field":"z","type":"quantitative","axis":null}}},
{"data":{"values":[{"a":0,"v":23},{"a":5,"v":23},{"a":10,"v":30},{"a":15,"v":35},{"a":20,"v":42},{"a":25,"v":50},{"a":30,"v":61},{"a":35,"v":65},{"a":40,"v":67},{"a":45,"v":73},{"a":50,"v":78},{"a":55,"v":81},{"a":60,"v":84},{"a":65,"v":96},{"a":68,"v":113},{"a":72,"v":107},{"a":76,"v":104},{"a":80,"v":107},{"a":85,"v":104},{"a":90,"v":96},{"a":95,"v":84},{"a":98,"v":81},{"a":102,"v":96},{"a":106,"v":119},{"a":109,"v":125},{"a":112,"v":113},{"a":116,"v":96},{"a":120,"v":107},{"a":125,"v":107},{"a":130,"v":100},{"a":135,"v":67},{"a":140,"v":50},{"a":145,"v":42},{"a":150,"v":42},{"a":155,"v":38},{"a":160,"v":32},{"a":165,"v":27},{"a":170,"v":27},{"a":175,"v":32},{"a":180,"v":35},{"a":185,"v":32},{"a":190,"v":30},{"a":195,"v":32},{"a":200,"v":32},{"a":205,"v":30},{"a":210,"v":35},{"a":215,"v":42},{"a":220,"v":53},{"a":225,"v":55},{"a":230,"v":61},{"a":235,"v":67},{"a":240,"v":84},{"a":245,"v":92},{"a":250,"v":84},{"a":255,"v":65},{"a":260,"v":53},{"a":265,"v":50},{"a":270,"v":61},{"a":275,"v":96},{"a":280,"v":113},{"a":285,"v":117},{"a":290,"v":113},{"a":295,"v":104},{"a":300,"v":104},{"a":305,"v":107},{"a":310,"v":76},{"a":315,"v":42},{"a":320,"v":27},{"a":325,"v":23},{"a":330,"v":23},{"a":340,"v":23},{"a":350,"v":27},{"a":355,"v":23},{"a":360,"v":23}]},"mark":{"type":"line","color":"#111111","strokeWidth":2},"encoding":{"y":{"field":"v","type":"quantitative","axis":null}}}
]}
]
}
